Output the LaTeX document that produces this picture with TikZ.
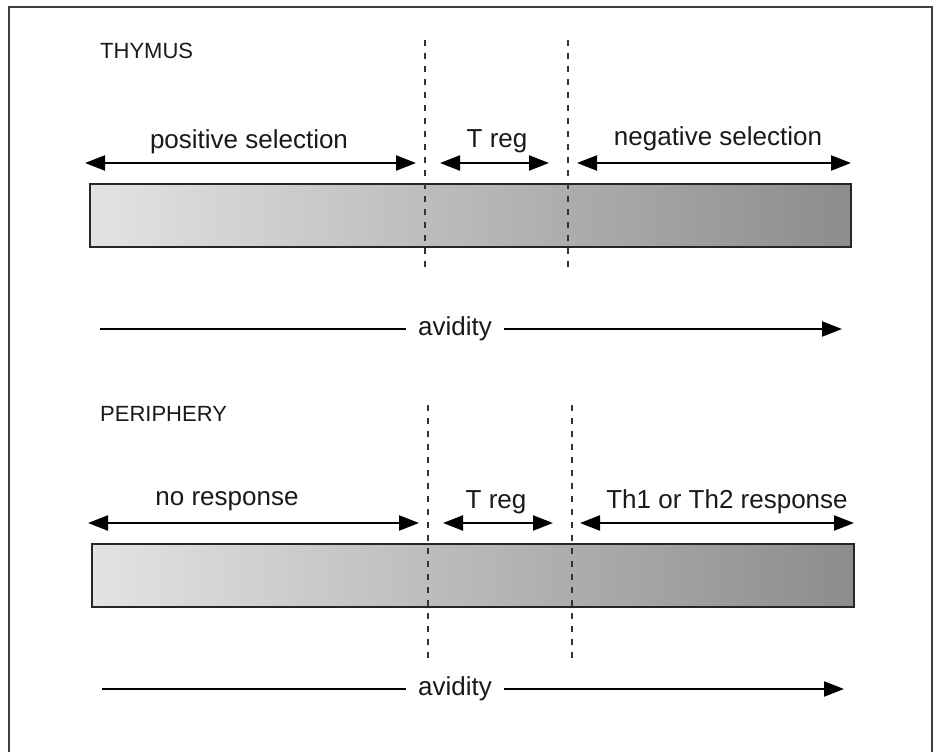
\documentclass[tikz,border=0pt]{standalone}
\usepackage{fontspec}
\setmainfont{Liberation Sans}
\usetikzlibrary{arrows.meta}
\begin{document}
\begin{tikzpicture}[x=1pt,y=-1pt,
  lab/.style={font=\fontsize{26}{30}\selectfont, text=black!90, anchor=base, inner sep=0pt},
  head/.style={font=\fontsize{22}{26}\selectfont, text=black!90, anchor=base west, inner sep=0pt},
  span/.style={line width=2.2pt, {Triangle[length=20pt,width=15pt]}-{Triangle[length=20pt,width=15pt]}},
  avline/.style={line width=2.2pt},
  avarrow/.style={line width=2.2pt, -{Triangle[length=20pt,width=15pt]}},
  avtext/.style={font=\fontsize{26}{30}\selectfont, text=black!90, anchor=base, inner ysep=0pt, inner xsep=12pt},
  bar/.style={draw=black!85, line width=2.2pt, left color=black!11, right color=black!45},
  divider/.style={line width=1.6pt, black!80, dash pattern=on 6pt off 7pt},
  frame/.style={line width=2.2pt, black!75}]
\useasboundingbox (0,0) rectangle (935,752);
% frame (open at bottom)
\coordinate (fbl) at (9,752);
\coordinate (ftl) at (9,7);
\coordinate (ftr) at (932,7);
\coordinate (fbr) at (932,752);
\draw[frame] (fbl) -- (ftl) -- (ftr) -- (fbr);

% ---------------- THYMUS ----------------
\node[head] (thymus) at (100,59) {THYMUS};
\path[bar] (90,184) rectangle (851,247);
\coordinate (d1t) at (425,40);  \coordinate (d1b) at (425,272);
\coordinate (d2t) at (568,40);  \coordinate (d2b) at (568,272);
\draw[divider] (d1t) -- (d1b);
\draw[divider] (d2t) -- (d2b);

\coordinate (p1a) at (85,163);  \coordinate (p1b) at (416,163);
\coordinate (p2a) at (440,163); \coordinate (p2b) at (549,163);
\coordinate (p3a) at (577,163); \coordinate (p3b) at (851,163);
\draw[span] (p1a) -- (p1b);
\draw[span] (p2a) -- (p2b);
\draw[span] (p3a) -- (p3b);
\node[lab] (pos) at (249,148) {positive selection};
\node[lab] (treg1) at (497,147) {T reg};
\node[lab] (neg) at (718,146) {negative selection};

\coordinate (a1s) at (100,329);
\coordinate (a1e) at (842,329);
\node[avtext] (avid1) at (455,335) {avidity};
\draw[avline] (a1s) -- (a1s -| avid1.west);
\draw[avarrow] (a1e -| avid1.east) -- (a1e);

% ---------------- PERIPHERY ----------------
\node[head] (periph) at (100,421) {PERIPHERY};
\path[bar] (92,544) rectangle (854,607);
\coordinate (e1t) at (428,405); \coordinate (e1b) at (428,662);
\coordinate (e2t) at (572,405); \coordinate (e2b) at (572,662);
\draw[divider] (e1t) -- (e1b);
\draw[divider] (e2t) -- (e2b);

\coordinate (q1a) at (88,523);  \coordinate (q1b) at (419,523);
\coordinate (q2a) at (443,523); \coordinate (q2b) at (553,523);
\coordinate (q3a) at (580,523); \coordinate (q3b) at (854,523);
\draw[span] (q1a) -- (q1b);
\draw[span] (q2a) -- (q2b);
\draw[span] (q3a) -- (q3b);
\node[lab] (nores) at (227,505) {no response};
\node[lab] (treg2) at (496,508) {T reg};
\node[lab] (th) at (727,508) {Th1 or Th2 response};

\coordinate (a2s) at (102,689);
\coordinate (a2e) at (844,689);
\node[avtext] (avid2) at (455,695) {avidity};
\draw[avline] (a2s) -- (a2s -| avid2.west);
\draw[avarrow] (a2e -| avid2.east) -- (a2e);
\end{tikzpicture}
\end{document}
